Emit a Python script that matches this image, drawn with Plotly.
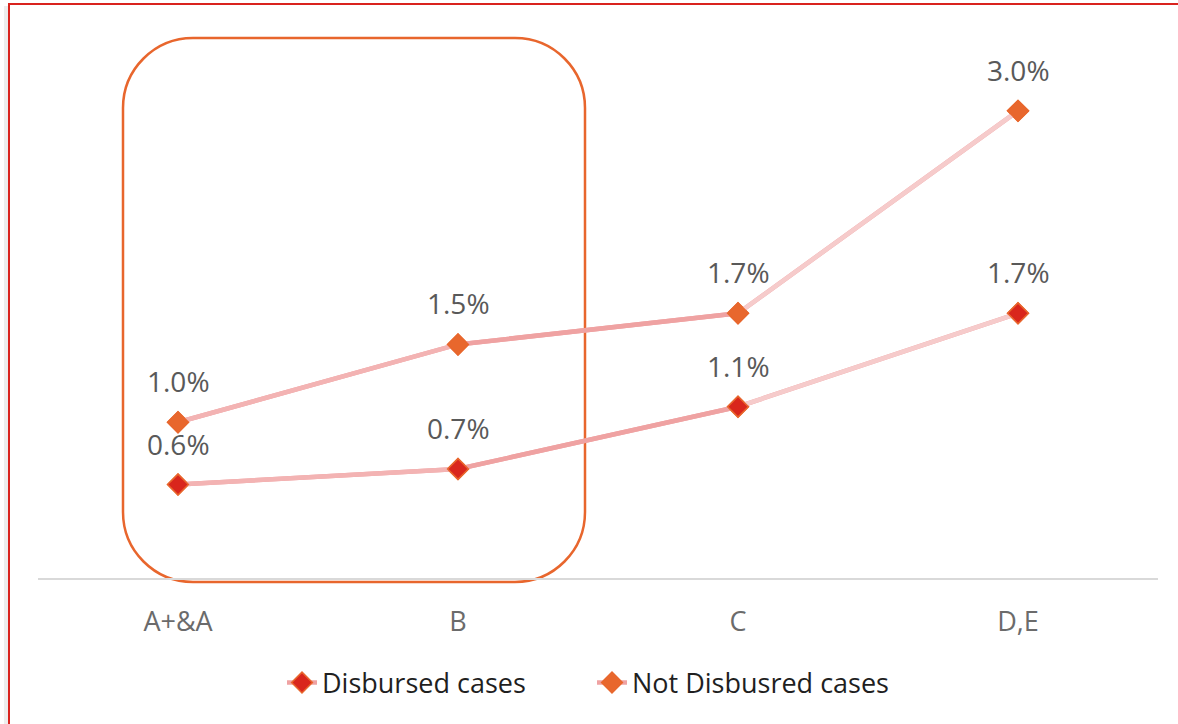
import plotly.graph_objects as go

categories = ["A+&A", "B", "C", "D,E"]
disbursed = [0.6, 0.7, 1.1, 1.7]
not_disbursed = [1.0, 1.5, 1.7, 3.0]
series_names = ["Disbursed cases", "Not Disbusred cases"]

W, H = 1178, 724
ML, MR, MT, MB = 38, 20, 33, 146
PW, PH = W - ML - MR, H - MT - MB


def px(x):
    return (x - ML) / PW


def py(y):
    return (H - MB - y) / PH


seg_colors = ["#F3B3B3", "#EFA2A2", "#F6CBCB"]
marker_fill = ["#D9261C", "#E8672D"]
marker_edge = ["#E8662D", "#E8672D"]
font_family = "Open Sans, Noto Sans, sans-serif"

fig = go.Figure()
all_series = [disbursed, not_disbursed]

# legend traces (full line, lies underneath the segment lines)
for k, vals in enumerate(all_series):
    fig.add_trace(go.Scatter(
        x=categories, y=vals, mode="lines+markers", name=series_names[k],
        line=dict(color=seg_colors[1], width=4.5),
        marker=dict(symbol="diamond", size=16, color=marker_fill[k],
                    line=dict(color=marker_edge[k], width=1.5)),
        showlegend=True, hoverinfo="skip"))

# gradient-like segments
for k, vals in enumerate(all_series):
    for i in range(len(categories) - 1):
        fig.add_trace(go.Scatter(
            x=categories[i:i + 2], y=vals[i:i + 2], mode="lines",
            line=dict(color=seg_colors[i], width=4.5),
            showlegend=False, hoverinfo="skip"))

# markers on top
for k, vals in enumerate(all_series):
    fig.add_trace(go.Scatter(
        x=categories, y=vals, mode="markers",
        marker=dict(symbol="diamond", size=16, color=marker_fill[k],
                    line=dict(color=marker_edge[k], width=1.5)),
        showlegend=False, hoverinfo="skip"))

annotations = []
for vals in all_series:
    for c, v in zip(categories, vals):
        annotations.append(dict(
            x=c, y=v, xref="x", yref="y", text=f"{v:.1f}%", showarrow=False,
            yanchor="middle", yshift=41,
            font=dict(family=font_family, size=28, color="#595959")))

# rounded rectangle highlighting A+&A and B
x0, x1, y0, y1, r = 123, 585, 38, 582, 70
k_ = 0.5523 * r
path = (
    f"M {px(x0 + r)},{py(y0)} L {px(x1 - r)},{py(y0)} "
    f"C {px(x1 - r + k_)},{py(y0)} {px(x1)},{py(y0 + r - k_)} {px(x1)},{py(y0 + r)} "
    f"L {px(x1)},{py(y1 - r)} "
    f"C {px(x1)},{py(y1 - r + k_)} {px(x1 - r + k_)},{py(y1)} {px(x1 - r)},{py(y1)} "
    f"L {px(x0 + r)},{py(y1)} "
    f"C {px(x0 + r - k_)},{py(y1)} {px(x0)},{py(y1 - r + k_)} {px(x0)},{py(y1 - r)} "
    f"L {px(x0)},{py(y0 + r)} "
    f"C {px(x0)},{py(y0 + r - k_)} {px(x0 + r - k_)},{py(y0)} {px(x0 + r)},{py(y0)} Z"
)

shapes = [
    dict(type="path", path=path, xref="paper", yref="paper",
         line=dict(color="#E8662D", width=2.5), fillcolor="rgba(0,0,0,0)", layer="below"),
    # soft shadow and red frame
    dict(type="line", xref="paper", yref="paper", x0=px(6), x1=px(6), y0=py(H + 5), y1=py(6),
         line=dict(color="rgba(0,0,0,0.07)", width=4)),
    dict(type="line", xref="paper", yref="paper", x0=px(9), x1=px(9), y0=py(H + 5), y1=py(3),
         line=dict(color="#D9231E", width=2)),
    dict(type="line", xref="paper", yref="paper", x0=px(8), x1=px(W + 5), y0=py(4), y1=py(4),
         line=dict(color="#D9231E", width=2)),
]

fig.update_layout(
    width=W, height=H,
    margin=dict(l=ML, r=MR, t=MT, b=MB, autoexpand=False),
    paper_bgcolor="white", plot_bgcolor="white",
    font=dict(family=font_family, size=27, color="#595959"),
    xaxis=dict(type="category", range=[-0.5, 3.5], showgrid=False, zeroline=False,
               showline=True, linecolor="#D9D9D9", linewidth=2, ticks="",
               ticklabelstandoff=19,
               tickfont=dict(family=font_family, size=27, color="#6B6B6B"),
               fixedrange=True),
    yaxis=dict(range=[0, 3.5], visible=False, fixedrange=True),
    legend=dict(orientation="h", x=px(592), xanchor="center", y=py(683), yanchor="middle",
                font=dict(family=font_family, size=27, color="#1F1F1F"),
                itemsizing="trace", bgcolor="rgba(0,0,0,0)",
                entrywidth=265, entrywidthmode="pixels"),
    annotations=annotations,
    shapes=shapes,
    showlegend=True,
)

fig.write_html(
    "out.html",
    config={"displayModeBar": False},
    post_script="document.body.style.margin='0';document.body.style.overflow='hidden';",
)
